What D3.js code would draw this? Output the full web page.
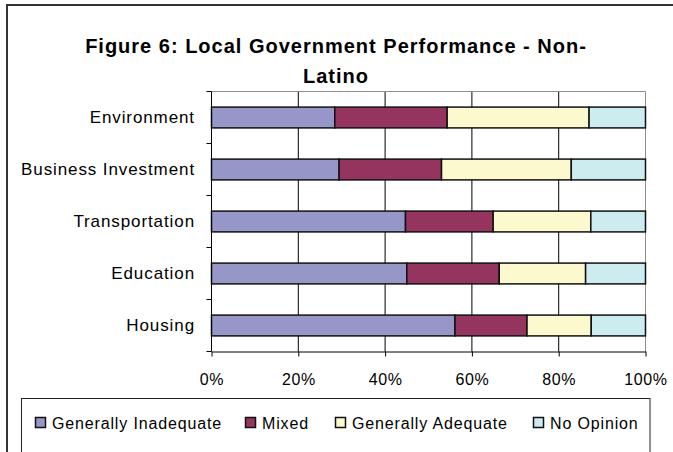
<!DOCTYPE html>
<html>
<head>
<meta charset="utf-8">
<script src="https://cdn.jsdelivr.net/npm/d3@7"></script>
<style>
  html, body { margin: 0; padding: 0; background: #fff; }
  svg { display: block; }
  text { font-family: "Liberation Sans", Arial, sans-serif; fill: #000; }
</style>
</head>
<body>
<svg id="chart" width="673" height="452"></svg>
<script>
// Survey categories, top to bottom
const categories = ["Environment", "Business Investment", "Transportation", "Education", "Housing"];

// Share of responses (%) per category, same order as categories
const generallyInadequate = [28.4, 29.4, 44.7, 45.0, 56.1];
const mixed               = [25.9, 23.6, 20.2, 21.3, 16.6];
const generallyAdequate   = [32.7, 29.9, 22.5, 19.9, 14.8];
const noOpinion           = [13.0, 17.1, 12.6, 13.8, 12.5];

const seriesNames = ["Generally Inadequate", "Mixed", "Generally Adequate", "No Opinion"];
const seriesColors = ["#9696c8", "#963460", "#fbf9cd", "#cdecef"];
const xTicks = [0, 20, 40, 60, 80, 100];
const titleLines = ["Figure 6: Local Government Performance - Non-", "Latino"];

const rows = categories.map((c, i) => ({
  category: c,
  "Generally Inadequate": generallyInadequate[i],
  "Mixed": mixed[i],
  "Generally Adequate": generallyAdequate[i],
  "No Opinion": noOpinion[i]
}));

// Normalise each row to 100%
const series = d3.stack().keys(seriesNames).offset(d3.stackOffsetExpand)(rows);

const svg = d3.select("#chart");

// Outer chart frame (runs off the right and bottom edges)
svg.append("rect")
  .attr("x", 7).attr("y", 5).attr("width", 720).attr("height", 480)
  .attr("fill", "#fff").attr("stroke", "#333").attr("stroke-width", 2);

// Title
svg.append("g").selectAll("text").data(titleLines).join("text")
  .attr("x", 336).attr("y", (d, i) => 53 + i * 30)
  .attr("text-anchor", "middle")
  .style("font-size", "20px").style("font-weight", "bold")
  .style("letter-spacing", "1px")
  .text(d => d);

const plot = { left: 211.5, right: 645.5, top: 91.5, bottom: 351.5 };

const x = d3.scaleLinear().domain([0, 1]).range([plot.left, plot.right]);
const y = d3.scaleBand().domain(categories).range([plot.top, plot.bottom]).paddingInner(0.6).paddingOuter(0.3);

// Gridlines
svg.append("g").selectAll("line").data(xTicks.slice(1, -1)).join("line")
  .attr("x1", d => x(d / 100)).attr("x2", d => x(d / 100))
  .attr("y1", plot.top).attr("y2", plot.bottom)
  .attr("stroke", "#000").attr("stroke-width", 1);

// Plot area border (top and right)
svg.append("path")
  .attr("d", `M${plot.left},${plot.top}H${plot.right}V${plot.bottom}`)
  .attr("fill", "none").attr("stroke", "#8c8c8c").attr("stroke-width", 1);

// Bars
svg.append("g").selectAll("g").data(series).join("g")
  .attr("fill", (d, i) => seriesColors[i])
  .selectAll("rect").data(d => d).join("rect")
  .attr("x", d => x(d[0]))
  .attr("width", d => x(d[1]) - x(d[0]))
  .attr("y", d => y(d.data.category))
  .attr("height", y.bandwidth())
  .attr("stroke", "#111").attr("stroke-width", 1.5);

// Bottom axis
const xAxis = d3.axisBottom(x)
  .tickValues(xTicks.map(t => t / 100))
  .tickFormat(d3.format(".0%"))
  .tickSize(5).tickPadding(17).tickSizeOuter(0);
const gx = svg.append("g").attr("transform", `translate(0,${plot.bottom})`).call(xAxis);
gx.select(".domain").attr("stroke", "#000");
gx.selectAll(".tick line").attr("stroke", "#000");
gx.selectAll(".tick text")
  .style("font-size", "16px").style("letter-spacing", "0.6px")
  .style("font-family", "'Liberation Sans', Arial, sans-serif").attr("fill", "#000");

// Left axis: ticks on category boundaries, labels centred on bands
const yBounds = d3.scaleLinear().domain([0, categories.length]).range([plot.top, plot.bottom]);
const gy = svg.append("g");
gy.append("line")
  .attr("x1", plot.left).attr("x2", plot.left)
  .attr("y1", plot.top).attr("y2", plot.bottom)
  .attr("stroke", "#000");
gy.selectAll("line.tick").data(d3.range(categories.length + 1)).join("line")
  .attr("class", "tick")
  .attr("x1", plot.left - 5).attr("x2", plot.left)
  .attr("y1", d => yBounds(d)).attr("y2", d => yBounds(d))
  .attr("stroke", "#000");
gy.selectAll("text").data(categories).join("text")
  .attr("x", 195)
  .attr("y", d => y(d) + y.bandwidth() / 2)
  .attr("dy", "0.35em")
  .attr("text-anchor", "end")
  .style("font-size", "17px").style("letter-spacing", "0.9px")
  .text(d => d);

// Legend
const legend = svg.append("g");
legend.append("rect")
  .attr("x", 21.5).attr("y", 398.5).attr("width", 628.5).attr("height", 60)
  .attr("fill", "#fff").attr("stroke", "#222").attr("stroke-width", 1);
const legendX = [35, 245, 335, 533];
const items = legend.selectAll("g.item").data(seriesNames).join("g")
  .attr("class", "item")
  .attr("transform", (d, i) => `translate(${legendX[i]},423)`);
items.append("rect")
  .attr("x", 0.5).attr("y", -5.5).attr("width", 10).attr("height", 10)
  .attr("fill", (d, i) => seriesColors[i])
  .attr("stroke", "#111").attr("stroke-width", 1.5);
items.append("text")
  .attr("x", 17).attr("y", 0).attr("dy", "0.35em")
  .style("font-size", "16px").style("letter-spacing", "0.85px")
  .text(d => d);
</script>
</body>
</html>
